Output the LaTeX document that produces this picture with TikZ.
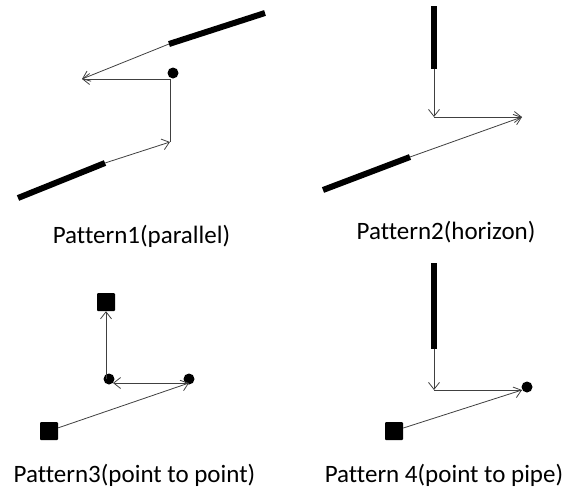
\documentclass[tikz,border=0pt]{standalone}
\usepackage{fontspec}
\setmainfont{Carlito}[Ligatures=NoCommon]
\usetikzlibrary{arrows.meta}
\begin{document}
\begin{tikzpicture}[x=1pt,y=-1pt,
  pipe/.style={line width=6pt,black},
  conn/.style={line width=0.8pt,black!75,-{Straight Barb[length=7pt,width=11pt]}},
  plain/.style={line width=0.8pt,black!75},
  dot/.style={circle,fill=black,inner sep=0pt,minimum size=11pt},
  sq/.style={rectangle,rounded corners=1pt,fill=black,inner sep=0pt,minimum size=18pt},
  lbl/.style={font=\fontsize{25}{30}\selectfont,inner sep=0pt,anchor=base}]
\useasboundingbox (0,0) rectangle (574,488);
% Pattern 1
\coordinate (p1a) at (169,44); \coordinate (p1b) at (265,13);
\draw[pipe] (p1a) -- (p1b);
\coordinate (p1l) at (82,79);
\node[dot] (d1) at (173,73) {};
\coordinate (p1c) at (170,79);
\coordinate (p1d) at (170,142);
\coordinate (p2a) at (18,198); \coordinate (p2b) at (105,163);
\draw[pipe] (p2a) -- (p2b);
\draw[conn] (p1a) -- (p1l);
\draw[conn] (p1c) -- (p1l);
\draw[plain] (p1c) -- (p1d);
\draw[conn] (p2b) -- (p1d);
\node[lbl] (t1) at (141.5,243) {Pattern1(parallel)};
% Pattern 2
\coordinate (q1a) at (434,6); \coordinate (q1b) at (434,69);
\draw[pipe] (q1a) -- (q1b);
\coordinate (q1c) at (434,117);
\coordinate (q1d) at (522,117);
\coordinate (q2a) at (323,190); \coordinate (q2b) at (410,157);
\draw[pipe] (q2a) -- (q2b);
\draw[conn] (q1b) -- (q1c);
\draw[conn] (q1c) -- (q1d);
\draw[conn] (q2b) -- (q1d);
\node[lbl] (t2) at (446,239) {Pattern2(horizon)};
% Pattern 3
\node[sq] (s3a) at (106,302) {};
\node[dot] (d3a) at (109,379) {};
\node[dot] (d3b) at (189,379) {};
\node[sq] (s3b) at (49,431) {};
\coordinate (r3a) at (106,379);
\coordinate (r3b) at (189,383);
\coordinate (r3c) at (113,383);
\draw[conn] (r3a) -- (s3a.south);
\draw[conn] (r3b) -- (r3c);
\draw[conn] (s3b) -- (r3b);
\node[lbl] (t3) at (134.5,482) {Pattern3(point to point)};
% Pattern 4
\coordinate (u1a) at (434,263); \coordinate (u1b) at (434,349);
\draw[pipe] (u1a) -- (u1b);
\coordinate (u1c) at (434,390);
\coordinate (u1d) at (522,390);
\node[dot] (d4) at (527,387) {};
\node[sq] (s4) at (394,431) {};
\draw[conn] (u1b) -- (u1c);
\draw[plain] (u1c) -- (u1d);
\draw[conn] (s4) -- (u1d);
\node[lbl] (t4) at (444,482) {Pattern 4(point to pipe)};
\end{tikzpicture}
\end{document}
